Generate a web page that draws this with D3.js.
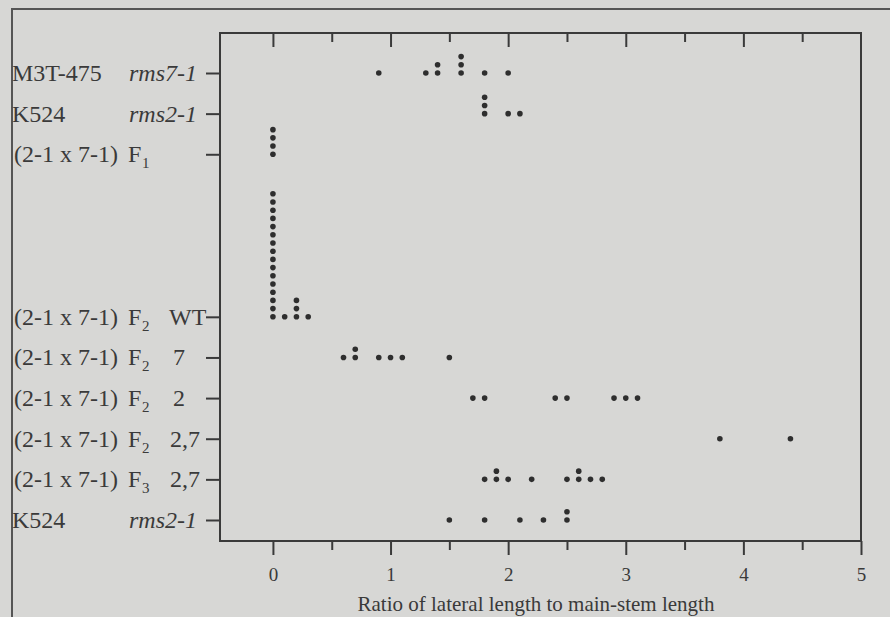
<!DOCTYPE html>
<html lang="en">
<head>
    <meta charset="UTF-8">
    <title>Ratio of lateral length to main-stem length</title>
    <script src="https://d3js.org/d3.v7.min.js"></script>
    <style>
        body {
            margin: 0;
            background-color: #d7d7d5;
            font-family: 'Liberation Serif', 'Times New Roman', serif;
        }
        svg text {
            fill: #3a3a3a;
        }
        .axis path, .axis line {
            stroke: #3a3a3a;
            stroke-width: 2;
        }
    </style>
</head>
<body>
    <div id="chart"></div>

    <script>
        // row slots on the y axis (rows 3-5 are left empty in the figure)
        const rowSlots = [0, 1, 2, 6, 7, 8, 9, 10, 11];
        const strains = ["M3T-475", "K524", "(2-1 x 7-1)", "(2-1 x 7-1)", "(2-1 x 7-1)",
                         "(2-1 x 7-1)", "(2-1 x 7-1)", "(2-1 x 7-1)", "K524"];
        const generations = ["", "", "F", "F", "F", "F", "F", "F", ""];
        const genSubs = ["", "", "1", "2", "2", "2", "2", "3", ""];
        const genotypes = ["rms7-1", "rms2-1", "", "WT", "7", "2", "2,7", "2,7", "rms2-1"];

        // ratio values per row (repeated values are stacked)
        const values = [
            [0.9, 1.3, 1.4, 1.4, 1.6, 1.6, 1.6, 1.8, 2.0],
            [1.8, 1.8, 1.8, 2.0, 2.1],
            [0, 0, 0, 0],
            [0, 0, 0, 0, 0, 0, 0, 0, 0, 0, 0, 0, 0, 0, 0, 0, 0.1, 0.2, 0.2, 0.2, 0.3],
            [0.6, 0.7, 0.7, 0.9, 1.0, 1.1, 1.5],
            [1.7, 1.8, 2.4, 2.5, 2.9, 3.0, 3.1],
            [3.8, 4.4],
            [1.8, 1.9, 1.9, 2.0, 2.2, 2.5, 2.6, 2.6, 2.7, 2.8],
            [1.5, 1.8, 2.1, 2.3, 2.5, 2.5]
        ];

        const majorTicks = [0, 1, 2, 3, 4, 5];
        const minorTicks = [0.5, 1.5, 2.5, 3.5, 4.5];
        const xTitle = "Ratio of lateral length to main-stem length";

        const width = 890, height = 617;
        const plotLeft = 220, plotRight = 861, plotTop = 33, plotBottom = 541;
        const serif = "'Liberation Serif', 'Times New Roman', serif";

        const svg = d3.select("#chart").append("svg")
            .attr("width", width)
            .attr("height", height);

        // scanned page border
        svg.append("path")
            .attr("d", `M12,${height} V9 H${width}`)
            .attr("fill", "none")
            .attr("stroke", "#555")
            .attr("stroke-width", 2);

        const x = d3.scaleLinear().domain([-0.45, 5]).range([plotLeft, plotRight]);
        const y = d3.scaleLinear().domain([0, 11]).range([73, 520]);

        // frame
        svg.append("rect")
            .attr("x", plotLeft).attr("y", plotTop)
            .attr("width", plotRight - plotLeft).attr("height", plotBottom - plotTop)
            .attr("fill", "none")
            .attr("stroke", "#3a3a3a")
            .attr("stroke-width", 2);

        // bottom axis
        svg.append("g").attr("class", "axis")
            .attr("transform", `translate(0,${plotBottom})`)
            .call(d3.axisBottom(x).tickValues(majorTicks).tickFormat(d3.format("d"))
                .tickSize(14).tickSizeOuter(0).tickPadding(13))
            .call(g => g.select(".domain").remove())
            .selectAll("text")
            .style("font-family", serif)
            .style("font-size", "19px")
            .attr("fill", "#3a3a3a");

        svg.append("g").attr("class", "axis")
            .attr("transform", `translate(0,${plotBottom})`)
            .call(d3.axisBottom(x).tickValues(minorTicks).tickSize(9).tickFormat(""))
            .call(g => g.select(".domain").remove());

        // top axis, ticks pointing inward
        svg.append("g").attr("class", "axis")
            .attr("transform", `translate(0,${plotTop})`)
            .call(d3.axisBottom(x).tickValues(majorTicks.slice(0, 5)).tickSize(14).tickFormat(""))
            .call(g => g.select(".domain").remove());

        svg.append("g").attr("class", "axis")
            .attr("transform", `translate(0,${plotTop})`)
            .call(d3.axisBottom(x).tickValues(minorTicks).tickSize(9).tickFormat(""))
            .call(g => g.select(".domain").remove());

        // left ticks for each row
        svg.append("g").attr("class", "axis")
            .attr("transform", `translate(${plotLeft},0)`)
            .call(d3.axisLeft(y).tickValues(rowSlots).tickSize(14).tickFormat(""))
            .call(g => g.select(".domain").remove());

        // row labels
        const labels = svg.append("g")
            .style("font-family", serif)
            .style("font-size", "24px");

        rowSlots.forEach((slot, i) => {
            const yy = y(slot) + 8;
            labels.append("text").attr("x", strains[i].startsWith("(") ? 14 : 12)
                .attr("y", yy).text(strains[i]);
            if (generations[i]) {
                labels.append("text").attr("x", 128).attr("y", yy).text(generations[i]);
                labels.append("text").attr("x", 142).attr("y", yy + 6)
                    .style("font-size", "15px").text(genSubs[i]);
            }
            if (genotypes[i].startsWith("rms")) {
                labels.append("text").attr("x", 197).attr("y", yy)
                    .attr("text-anchor", "end")
                    .style("font-style", "italic")
                    .text(genotypes[i]);
            } else if (genotypes[i]) {
                labels.append("text").attr("x", genotypes[i] === "WT" ? 169 : (genotypes[i].length > 1 ? 170 : 173))
                    .attr("y", yy).text(genotypes[i]);
            }
        });

        // dots, stacking repeated values upward
        const dots = [];
        values.forEach((vals, i) => {
            const count = {};
            vals.forEach(v => {
                const k = v.toFixed(2);
                count[k] = (count[k] || 0) + 1;
                dots.push({ v: v, row: rowSlots[i], stack: count[k] - 1 });
            });
        });

        svg.append("g").selectAll("circle")
            .data(dots)
            .enter().append("circle")
            .attr("cx", d => x(d.v))
            .attr("cy", d => y(d.row) - d.stack * 8.2)
            .attr("r", 2.8)
            .attr("fill", "#2e2e2e");

        // x title
        svg.append("text")
            .attr("x", 536)
            .attr("y", 611)
            .attr("text-anchor", "middle")
            .style("font-family", serif)
            .style("font-size", "21px")
            .text(xTitle);
    </script>
</body>
</html>
